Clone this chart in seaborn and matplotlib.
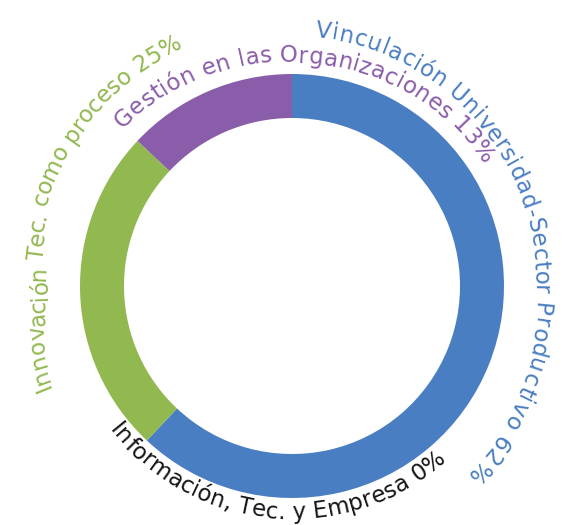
import numpy as np
import matplotlib
matplotlib.use("Agg")
import matplotlib.pyplot as plt
import seaborn as sns
from matplotlib.font_manager import FontProperties
from matplotlib.textpath import TextToPath

# Data
categories = ["Vinculación Universidad-Sector Productivo",
              "Innovación Tec. como proceso",
              "Gestión en las Organizaciones",
              "Información, Tec. y Empresa"]
values = [62, 25, 13, 0]
colors = ["#4A7EC2", "#92B850", "#8A5DAB", "#151515"]

# Where each curved label sits: start/end angle (deg) and baseline radius profile
label_angles = [(83, -45), (202, 117), (135, 35), (219, 309)]
label_radii = [([0, 0.65, 1], [250, 242, 256]),
               ([0, 0.25, 0.5, 1], [262, 244, 260, 262]),
               ([0, 0.5, 1], [231, 223, 226]),
               ([0, 1], [233, 233])]

sns.set_theme(style="white")
plt.rcParams["font.family"] = ["DejaVu Sans"]
palette = sns.color_palette(colors)

W, H = 563, 525
cx, cy = 292, H - 286
R, ring_w = 212, 44

fig = plt.figure(figsize=(W / 100, H / 100), dpi=100)
ax = fig.add_axes([0, 0, 1, 1])

# Donut (zero slices skipped)
drawn = [(v, c) for v, c in zip(values, palette) if v > 0]
ax.pie([v for v, _ in drawn], colors=[c for _, c in drawn], startangle=90,
       counterclock=False, radius=R, center=(cx, cy),
       wedgeprops=dict(width=ring_w, edgecolor="none", linewidth=0))

ax.set_xlim(0, W)
ax.set_ylim(0, H)
ax.set_aspect("equal")
ax.set_axis_off()

# Curved labels, one glyph at a time
prop = FontProperties(family="DejaVu Sans", size=16.5)
ttp = TextToPath()


def width(s):
    return ttp.get_text_width_height_descent(s, prop, ismath=False)[0]


def curved_text(s, a0, a1, ts, rs, color):
    base = width("HH")
    adv = np.array([width("H" + ch + "H") - base for ch in s])
    centers = np.cumsum(adv) - adv / 2
    t = (centers - centers[0]) / (centers[-1] - centers[0])
    theta = np.radians(a0 + (a1 - a0) * t)
    r = np.interp(t, ts, rs)
    for ch, th, rr in zip(s, theta, r):
        deg = np.degrees(th)
        rot = deg - 90 if a1 < a0 else deg + 90
        ax.text(cx + rr * np.cos(th), cy + rr * np.sin(th), ch,
                fontproperties=prop, color=color, rotation=rot,
                rotation_mode="anchor", ha="center", va="baseline")


for name, val, col, (a0, a1), (ts, rs) in zip(categories, values, palette,
                                             label_angles, label_radii):
    curved_text(f"{name} {val}%", a0, a1, ts, rs, col)

fig.savefig("out.png", dpi=100)
